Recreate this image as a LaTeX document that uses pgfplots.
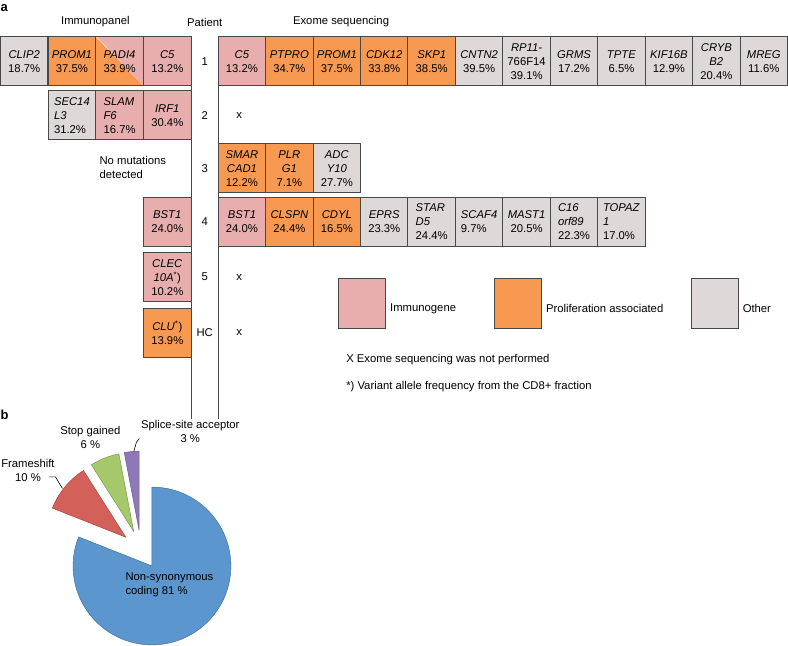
\documentclass[border=0pt]{standalone}
\usepackage{fontspec}
\setmainfont{Liberation Sans}
\usepackage{pgfplots}
\pgfplotsset{compat=1.18}

\definecolor{imm}{RGB}{232,174,174}
\definecolor{pro}{RGB}{248,153,82}
\definecolor{oth}{RGB}{223,216,216}
\definecolor{bord}{RGB}{72,72,72}
\definecolor{pblue}{RGB}{92,150,206}
\definecolor{pred}{RGB}{212,96,90}
\definecolor{pgreen}{RGB}{165,200,106}
\definecolor{ppurple}{RGB}{142,121,184}

\newcommand\fs{\fontsize{11.3}{14}\selectfont}

% gene box: [align] x0 y0 colour text
\newcommand\gbox[5][center]{%
  \pgfmathsetmacro\xb{#2+47.5}%
  \pgfmathsetmacro\yb{#3+49}%
  \addplot[fill=#4, draw=bord, line width=1pt] coordinates {(#2,#3) (\xb,#3) (\xb,\yb) (#2,\yb)} -- cycle;
  \node[t, align=#1, xshift=23.75pt, yshift=-24.5pt] at (axis cs:#2,#3) {#5};
}

% pie slice: start angle, end angle, colour (exploded by 19.7 from the pie centre)
\newcommand\slice[3]{%
  \pgfmathsetmacro\sm{(#1+#2)/2}%
  \pgfmathsetmacro\tx{140.6+19.7*cos(\sm)}%
  \pgfmathsetmacro\ty{550.4-19.7*sin(\sm)}%
  \edef\doslice{\noexpand\addplot[fill=#3, draw=#3!75!black, line width=0.5pt, domain=#1:#2, samples=120] ({\tx+79*cos(x)},{\ty-79*sin(x)}) -- (axis cs:\tx,\ty) -- cycle;}%
  \doslice
}

\begin{document}
\begin{tikzpicture}[t/.style={font=\fs, inner sep=0pt, align=center}]
\begin{axis}[x=1pt, y=1pt, y dir=reverse,
  xmin=0, xmax=788, ymin=0, ymax=646,
  hide axis, clip=false]
\addplot[draw=none] coordinates {(0,0) (788,646)};

% headers
\node[font=\fontsize{13}{14}\selectfont\bfseries, inner sep=0pt, anchor=west] at (axis cs:0,8) {a};
\node[t] at (axis cs:95,22) {Immunopanel};
\node[t] at (axis cs:204.5,22) {Patient};
\node[t] at (axis cs:341,22) {Exome sequencing};

% patient column lines
\addplot[bord, line width=1pt] coordinates {(191,86) (191,420)};
\addplot[bord, line width=1pt] coordinates {(218,86) (218,420)};

% ---- row 1
\gbox{0}{37}{oth}{\textit{CLIP2}\\18.7\%}
\gbox{47.75}{37}{pro}{\textit{PROM1}\\37.5\%}
\addplot[fill=pro, draw=none] coordinates {(95.5,37) (95.5,86) (143.25,86)} -- cycle;
\addplot[fill=imm, draw=none] coordinates {(96.5,37) (143.25,37) (143.25,86)} -- cycle;
\addplot[draw=bord, line width=1pt] coordinates {(95.5,37) (143.25,37) (143.25,86) (95.5,86)} -- cycle;
\node[t, xshift=23.75pt, yshift=-24.5pt] at (axis cs:95.5,37) {\textit{PADI4}\\33.9\%};
\gbox{143.25}{37}{imm}{\textit{C5}\\13.2\%}
\node[t] at (axis cs:204.5,61.5) {1};
\gbox{218}{37}{imm}{\textit{C5}\\13.2\%}
\gbox{265.5}{37}{pro}{\textit{PTPRO}\\34.7\%}
\gbox{313}{37}{pro}{\textit{PROM1}\\37.5\%}
\gbox{360.5}{37}{pro}{\textit{CDK12}\\33.8\%}
\gbox{408}{37}{pro}{\textit{SKP1}\\38.5\%}
\gbox{455.5}{37}{oth}{\textit{CNTN2}\\39.5\%}
\gbox{503}{37}{oth}{\textit{RP11-}\\766F14\\39.1\%}
\gbox{550.5}{37}{oth}{\textit{GRMS}\\17.2\%}
\gbox{598}{37}{oth}{\textit{TPTE}\\6.5\%}
\gbox{645.5}{37}{oth}{\textit{KIF16B}\\12.9\%}
\gbox{693}{37}{oth}{\textit{CRYB}\\\textit{B2}\\20.4\%}
\gbox{740.5}{37}{oth}{\textit{MREG}\\11.6\%}

% ---- row 2
\gbox[left]{47.75}{91}{oth}{\textit{SEC14}\\\textit{L3}\\31.2\%}
\gbox[left]{95.5}{91}{imm}{\textit{SLAM}\\\textit{F6}\\16.7\%}
\gbox{143.25}{91}{imm}{\textit{IRF1}\\30.4\%}
\node[t] at (axis cs:204.5,115.5) {2};
\node[t] at (axis cs:239,115.5) {x};

% ---- row 3
\node[t, align=left, anchor=west] at (axis cs:99,167.5) {No mutations\\detected};
\node[t] at (axis cs:204.5,168.5) {3};
\gbox{218}{144}{pro}{\textit{SMAR}\\\textit{CAD1}\\12.2\%}
\gbox{265.5}{144}{pro}{\textit{PLR}\\\textit{G1}\\7.1\%}
\gbox{313}{144}{oth}{\textit{ADC}\\\textit{Y10}\\27.7\%}

% ---- row 4
\gbox{143.25}{197.5}{imm}{\textit{BST1}\\24.0\%}
\node[t] at (axis cs:204.5,222) {4};
\gbox{218}{197.5}{imm}{\textit{BST1}\\24.0\%}
\gbox{265.5}{197.5}{pro}{\textit{CLSPN}\\24.4\%}
\gbox{313}{197.5}{pro}{\textit{CDYL}\\16.5\%}
\gbox{360.5}{197.5}{oth}{\textit{EPRS}\\23.3\%}
\gbox[left]{408}{197.5}{oth}{\textit{STAR}\\\textit{D5}\\24.4\%}
\gbox[left]{455.5}{197.5}{oth}{\textit{SCAF4}\\9.7\%}
\gbox{503}{197.5}{oth}{\textit{MAST1}\\20.5\%}
\gbox[left]{550.5}{197.5}{oth}{\textit{C16}\\\textit{orf89}\\22.3\%}
\gbox[left]{598}{197.5}{oth}{\textit{TOPAZ}\\\textit{1}\\17.0\%}

% ---- row 5
\gbox{143.25}{253}{imm}{\textit{CLEC}\\\textit{10A}\textsuperscript{*})\\10.2\%}
\node[t] at (axis cs:204.5,277.5) {5};
\node[t] at (axis cs:239,277.5) {x};

% ---- HC
\gbox{143.25}{308.5}{pro}{\textit{CLU}\textsuperscript{*})\\13.9\%}
\node[t] at (axis cs:204.5,333) {HC};
\node[t] at (axis cs:239,333) {x};

% ---- legend
\addplot[fill=imm, draw=bord, line width=1pt] coordinates {(338,279) (385,279) (385,329) (338,329)} -- cycle;
\addplot[fill=pro, draw=bord, line width=1pt] coordinates {(495,279) (542,279) (542,329) (495,329)} -- cycle;
\addplot[fill=oth, draw=bord, line width=1pt] coordinates {(692,279) (739,279) (739,329) (692,329)} -- cycle;
\node[t, anchor=west] at (axis cs:390,309) {Immunogene};
\node[t, anchor=west] at (axis cs:546,309) {Proliferation associated};
\node[t, anchor=west] at (axis cs:743,309) {Other};
\node[t, anchor=west] at (axis cs:346,360) {X Exome sequencing was not performed};
\node[t, anchor=west] at (axis cs:346,387) {*) Variant allele frequency from the CD8+ fraction};

% ---- panel b: pie (81, 10, 6, 3 %)
\node[font=\fontsize{13}{14}\selectfont\bfseries, inner sep=0pt, anchor=west] at (axis cs:0,415) {b};
\pgfmathsetmacro\aS{90}
\pgfmathsetmacro\aP{\aS+3.6*3}
\pgfmathsetmacro\aG{\aP+3.6*6}
\pgfmathsetmacro\aR{\aG+3.6*10}
\pgfmathsetmacro\aB{\aR+3.6*81}
\slice{\aR}{\aB}{pblue}
\slice{\aG}{\aR}{pred}
\slice{\aP}{\aG}{pgreen}
\slice{\aS}{\aP}{ppurple}

\addplot[black, line width=0.6pt] coordinates {(49,477.5) (55,477.5) (62,489)};
\addplot[black, line width=0.6pt] coordinates {(133.5,452) (136,443) (139,439)};
\node[t] at (axis cs:27.5,471.5) {Frameshift\\10 \%};
\node[t] at (axis cs:90,438) {Stop gained\\6 \%};
\node[t] at (axis cs:190,432) {Splice-site acceptor\\3 \%};
\node[t, align=left, anchor=west] at (axis cs:125,586) {Non-synonymous\\coding 81 \%};
\end{axis}
\end{tikzpicture}
\end{document}
